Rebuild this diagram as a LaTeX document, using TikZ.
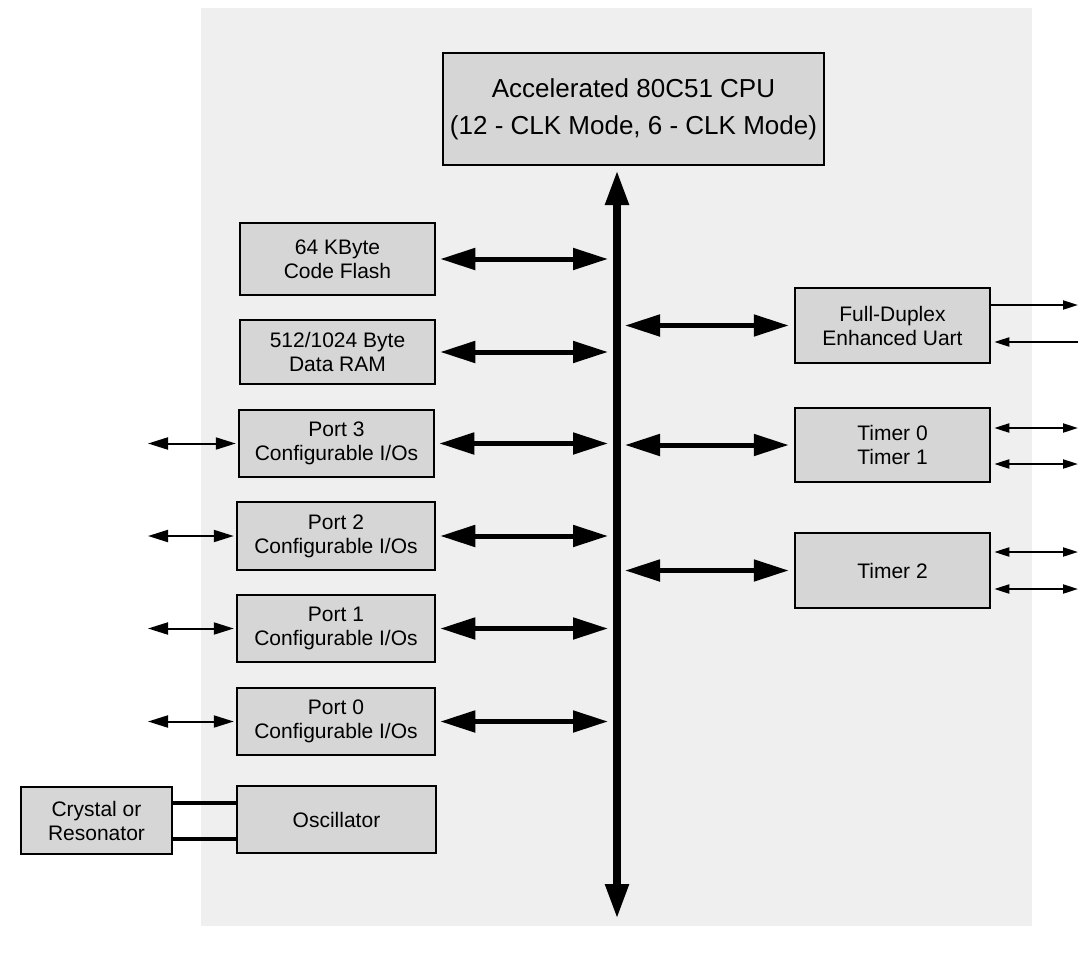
\documentclass[tikz,border=0pt]{standalone}
\usepackage{fontspec}
\setmainfont{Liberation Sans}
\usetikzlibrary{arrows.meta}
\definecolor{bgcol}{HTML}{EFEFEF}
\definecolor{boxcol}{HTML}{D6D6D6}
\tikzset{
  blk/.style={draw=black, line width=2.5pt, fill=boxcol, inner sep=0pt, align=center,
    font=\fontsize{21}{24}\selectfont},
  bigarrow/.style={line width=5pt, {Triangle[length=35pt,width=21pt]}-{Triangle[length=35pt,width=21pt]}},
  busarrow/.style={line width=8pt, {Triangle[length=35pt,width=22pt]}-{Triangle[length=35pt,width=22pt]}},
  smallarrow/.style={line width=2pt, {Triangle[length=20pt,width=12pt]}-{Triangle[length=20pt,width=12pt]}},
  tinyarrow/.style={line width=2pt, -{Triangle[length=15pt,width=9pt]}},
  tinyboth/.style={line width=2pt, {Triangle[length=15pt,width=9pt]}-{Triangle[length=15pt,width=9pt]}},
  wire/.style={line width=4pt}
}
\begin{document}
\begin{tikzpicture}[x=1pt,y=-1pt]
\useasboundingbox (0,0) rectangle (1084,953);
\fill[white] (0,0) rectangle (1084,953);
\fill[bgcol] (201,8) rectangle (1032,926);

% CPU
\node[blk, minimum width=381pt, minimum height=112pt,
  font=\fontsize{26}{37}\selectfont] (cpu) at (633.5,109)
  {Accelerated 80C51 CPU\\(12 - CLK Mode, 6 - CLK Mode)};

% left blocks
\node[blk, minimum width=195pt, minimum height=72pt] (flash) at (337.5,259) {64 KByte\\Code Flash};
\node[blk, minimum width=195pt, minimum height=64pt] (ram) at (337.5,352) {512/1024 Byte\\Data RAM};
\node[blk, minimum width=195pt, minimum height=67pt] (p3) at (336.5,443.5) {Port 3\\Configurable I/Os};
\node[blk, minimum width=198pt, minimum height=68pt] (p2) at (336,536) {Port 2\\Configurable I/Os};
\node[blk, minimum width=198pt, minimum height=67pt] (p1) at (336,628.5) {Port 1\\Configurable I/Os};
\node[blk, minimum width=198pt, minimum height=67pt] (p0) at (336,721.5) {Port 0\\Configurable I/Os};
\node[blk, minimum width=199pt, minimum height=67pt] (osc) at (336.5,819.5) {Oscillator};
\node[blk, minimum width=151pt, minimum height=67pt] (xtal) at (96.5,820.5) {Crystal or\\Resonator};

% right blocks
\node[blk, minimum width=195pt, minimum height=75pt] (uart) at (892.5,325.5) {Full-Duplex\\Enhanced Uart};
\node[blk, minimum width=195pt, minimum height=74pt] (t01) at (892.5,445) {Timer 0\\Timer 1};
\node[blk, minimum width=195pt, minimum height=75pt] (t2) at (892.5,570.5) {Timer 2};

% bus
\coordinate (busTop) at (617,170);
\coordinate (busBot) at (617,919);
\coordinate (busL) at (608,0);
\coordinate (busR) at (625,0);
\coordinate (extL) at (148,0);
\coordinate (extR) at (1078,0);
\draw[busarrow] (busTop) -- (busBot);

% left bus arrows
\foreach \n in {flash,ram,p3,p2,p1,p0}{
  \draw[bigarrow] ([xshift=4pt]\n.east) -- (\n.east -| busL);
}
% right bus arrows
\foreach \n in {uart,t01,t2}{
  \draw[bigarrow] (\n.west -| busR) -- ([xshift=-5pt]\n.west);
}

% port external arrows
\foreach \n in {p3,p2,p1,p0}{
  \draw[smallarrow] (\n.west -| extL) -- ([xshift=-2pt]\n.west);
}

% crystal wires
\draw[wire] ([yshift=18pt]xtal.east) -- ([yshift=18pt]xtal.east -| osc.west);
\draw[wire] ([yshift=-18pt]xtal.east) -- ([yshift=-18pt]xtal.east -| osc.west);

% right external arrows
\draw[tinyarrow] ([yshift=20.5pt]uart.east) -- ([yshift=20.5pt]uart.east -| extR);
\draw[tinyarrow] ([yshift=-16.5pt]uart.east -| extR) -- ([yshift=-16.5pt,xshift=3pt]uart.east);
\draw[tinyboth] ([yshift=17pt,xshift=3pt]t01.east) -- ([yshift=17pt]t01.east -| extR);
\draw[tinyboth] ([yshift=-19pt,xshift=3pt]t01.east) -- ([yshift=-19pt]t01.east -| extR);
\draw[tinyboth] ([yshift=18.5pt,xshift=3pt]t2.east) -- ([yshift=18.5pt]t2.east -| extR);
\draw[tinyboth] ([yshift=-18.5pt,xshift=3pt]t2.east) -- ([yshift=-18.5pt]t2.east -| extR);
\end{tikzpicture}
\end{document}
